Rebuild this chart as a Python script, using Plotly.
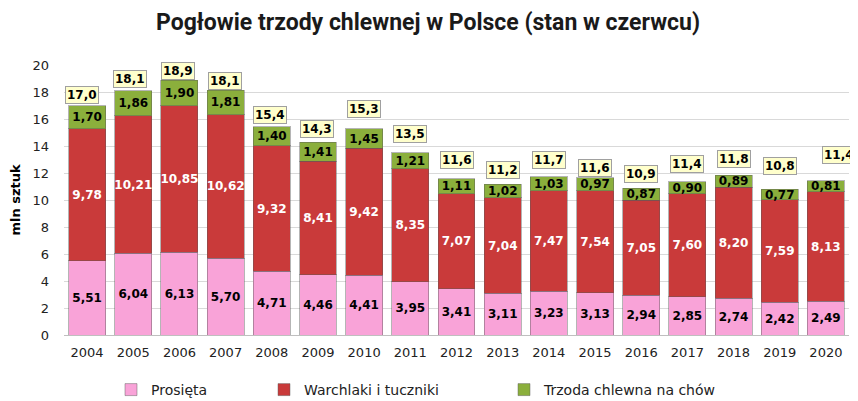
import plotly.graph_objects as go

years = ["2004", "2005", "2006", "2007", "2008", "2009", "2010", "2011", "2012",
         "2013", "2014", "2015", "2016", "2017", "2018", "2019", "2020"]
prosieta = [5.51, 6.04, 6.13, 5.70, 4.71, 4.46, 4.41, 3.95, 3.41, 3.11, 3.23, 3.13, 2.94, 2.85, 2.74, 2.42, 2.49]
warchlaki = [9.78, 10.21, 10.85, 10.62, 9.32, 8.41, 9.42, 8.35, 7.07, 7.04, 7.47, 7.54, 7.05, 7.60, 8.20, 7.59, 8.13]
na_chow = [1.70, 1.86, 1.90, 1.81, 1.40, 1.41, 1.45, 1.21, 1.11, 1.02, 1.03, 0.97, 0.87, 0.90, 0.89, 0.77, 0.81]
razem = [17.0, 18.1, 18.9, 18.1, 15.4, 14.3, 15.3, 13.5, 11.6, 11.2, 11.7, 11.6, 10.9, 11.4, 11.8, 10.8, 11.4]
y_ticks = [0, 2, 4, 6, 8, 10, 12, 14, 16, 18, 20]

# style: label nudges (pixels) for the total boxes
label_lift = [2, 3, 0, 0, 3, 4, 11, 10, 10, 5, 8, 1, 5, 9, 7, 14, 17]
label_dx = [-5, -3, -1, -1, -2, -1, 0, 0, 0, 0, 0, 0, 0, 0, 0, 0, 13]


def fmt(v, d=2):
    return f"{v:.{d}f}".replace(".", ",")


series = [
    ("Prosięta", prosieta, "#F9A3D8", "#000000"),
    ("Warchlaki i tuczniki", warchlaki, "#C93A3A", "#FFFFFF"),
    ("Trzoda chlewna na chów", na_chow, "#8BAF3C", "#000000"),
]
legend_ids = ["legend", "legend2", "legend3"]

W, H = 850, 393  # page body adds an 8px offset

fig = go.Figure()
for (name, vals, color, tcolor), lid in zip(series, legend_ids):
    fig.add_trace(go.Bar(
        x=years, y=vals, name=name,
        marker=dict(color=color, line=dict(color="rgba(90,90,90,0.45)", width=1)),
        text=[fmt(v) for v in vals],
        textposition="inside", insidetextanchor="middle", textangle=0,
        insidetextfont=dict(family="DejaVu Sans", size=12, color=tcolor, weight="bold"),
        legend=lid, hoverinfo="skip",
    ))

totals_stack = [a + b + c for a, b, c in zip(prosieta, warchlaki, na_chow)]
for i, (tot, lab) in enumerate(zip(totals_stack, razem)):
    fig.add_annotation(
        x=i, y=tot, text=fmt(lab, 1), showarrow=False,
        yanchor="bottom", xanchor="center",
        yshift=label_lift[i], xshift=label_dx[i],
        bgcolor="#FFFFCC", bordercolor="#A0A0A0", borderwidth=1, borderpad=1,
        font=dict(family="DejaVu Sans", size=12, color="#000000", weight="bold"),
    )

leg_common = dict(orientation="h", yanchor="middle", yref="container", y=1 - 382 / H,
                  xanchor="left", xref="container",
                  font=dict(family="DejaVu Sans", size=14, color="#222222"),
                  bgcolor="rgba(0,0,0,0)", itemwidth=30)
fig.update_layout(
    width=W, height=H,
    margin=dict(l=56, r=9, t=57, b=66),
    paper_bgcolor="#FFFFFF", plot_bgcolor="#FFFFFF",
    barmode="stack", bargap=0.2,
    uniformtext=dict(minsize=12, mode="show"),
    title=dict(text="Pogłowie trzody chlewnej w Polsce (stan w czerwcu)",
               x=420 / W, xanchor="center", xref="container",
               y=1 - 13.5 / H, yanchor="middle", yref="container",
               font=dict(family="Roboto", size=23, color="#1a1a1a", weight="bold")),
    legend=dict(x=103 / W, **leg_common),
    legend2=dict(x=256 / W, **leg_common),
    legend3=dict(x=496 / W, **leg_common),
    showlegend=True,
)
fig.update_yaxes(
    range=[0, 20], tickvals=y_ticks, ticktext=[str(t) for t in y_ticks],
    showgrid=True, gridcolor="#D9D9D9", gridwidth=1,
    zeroline=False, showline=False, automargin=False,
    tickfont=dict(family="DejaVu Sans", size=13, color="#222222"),
    ticklabelstandoff=14,
    title=dict(text="mln sztuk", standoff=11,
               font=dict(family="DejaVu Sans", size=13, color="#000000", weight="bold")),
)
fig.update_xaxes(
    type="category", range=[-0.5, len(years) - 0.5], automargin=False,
    showline=True, linecolor="#BFBFBF", linewidth=1,
    tickfont=dict(family="DejaVu Sans", size=13, color="#222222"),
    ticks="", ticklabelstandoff=5,
)

fig.write_html("out.html")
